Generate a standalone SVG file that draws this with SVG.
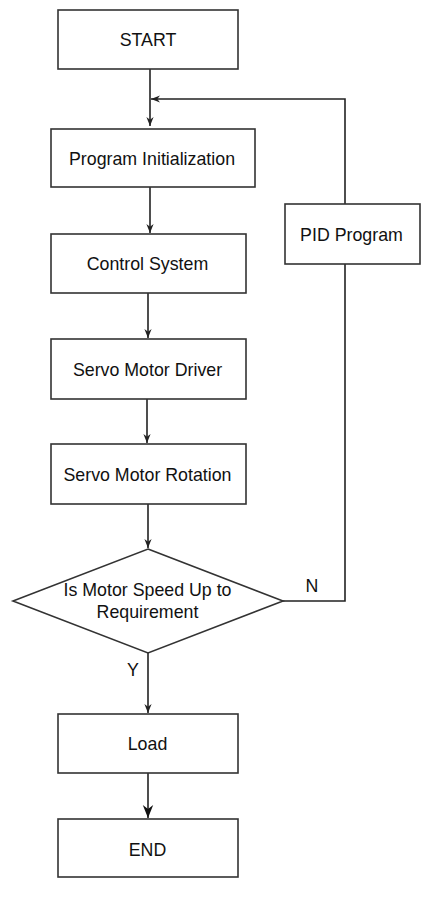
<svg xmlns="http://www.w3.org/2000/svg" width="432" height="897" viewBox="0 0 432 897">
<defs>
<marker id="arr" viewBox="0 0 10 10" refX="10" refY="5" markerWidth="9" markerHeight="9" markerUnits="userSpaceOnUse" orient="auto">
<path d="M0,1 L10,5 L0,9 L3,5 z" fill="#222"/>
</marker>
<marker id="arrBig" viewBox="0 0 10 10" refX="10" refY="5" markerWidth="13" markerHeight="13" markerUnits="userSpaceOnUse" orient="auto">
<path d="M0,1 L10,5 L0,9 L3,5 z" fill="#111"/>
</marker>
</defs>
<style>
.box{fill:#fff;stroke:#333;stroke-width:1.6}
.t{font-family:"Liberation Sans",Arial,sans-serif;font-size:17.8px;fill:#111;text-anchor:middle}
.c{fill:none;stroke:#222;stroke-width:1.6}
</style>
<rect width="432" height="897" fill="#fff"/>
<g id="connectors">
<path class="c" d="M150,69 V126" marker-end="url(#arr)"/>
<path class="c" d="M345,204 V99 H151" marker-end="url(#arr)"/>
<path class="c" d="M150,187 V233" marker-end="url(#arr)"/>
<path class="c" d="M148,293 V338" marker-end="url(#arr)"/>
<path class="c" d="M147,399 V443" marker-end="url(#arr)"/>
<path class="c" d="M148,504 V548" marker-end="url(#arr)"/>
<path class="c" d="M283,601 H345 V264"/>
<path class="c" d="M148,653 V713" marker-end="url(#arr)"/>
<path class="c" d="M148,773 V818" marker-end="url(#arrBig)"/>
<text class="t" x="312" y="592">N</text>
<text class="t" x="133" y="676">Y</text>
</g>
<g id="start"><rect class="box" x="58" y="10" width="180" height="59"/><text class="t" x="148" y="46">START</text></g>
<g id="init"><rect class="box" x="51" y="129" width="204" height="58"/><text class="t" x="152" y="165">Program Initialization</text></g>
<g id="control"><rect class="box" x="51" y="234" width="195" height="59"/><text class="t" x="147.5" y="270">Control System</text></g>
<g id="pid"><rect class="box" x="285" y="204" width="135" height="60"/><text class="t" x="351.5" y="240.5">PID Program</text></g>
<g id="driver"><rect class="box" x="51" y="339" width="195" height="60"/><text class="t" x="147.5" y="375.5">Servo Motor Driver</text></g>
<g id="rotation"><rect class="box" x="51" y="444" width="195" height="60"/><text class="t" x="147.5" y="480.5">Servo Motor Rotation</text></g>
<g id="decision"><path class="box" d="M148,549 L283,601 L148,653 L13,601 Z"/><text class="t" x="147.5" y="596">Is Motor Speed Up to</text><text class="t" x="147.5" y="618">Requirement</text></g>
<g id="load"><rect class="box" x="58" y="714" width="180" height="59"/><text class="t" x="147.5" y="750">Load</text></g>
<g id="end"><rect class="box" x="58" y="819" width="180" height="58"/><text class="t" x="147.5" y="855.5">END</text></g>
</svg>
